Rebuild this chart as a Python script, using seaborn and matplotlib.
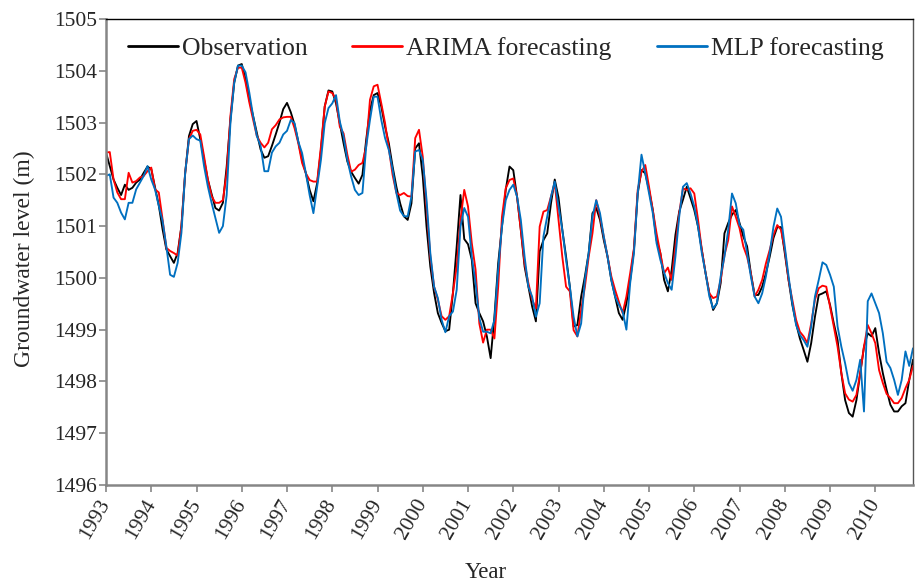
import numpy as np
import pandas as pd
import matplotlib
matplotlib.use("Agg")
import matplotlib.pyplot as plt
import seaborn as sns

start_year = 1993
observation = [
    1502.42, 1502.16, 1501.9, 1501.74, 1501.6, 1501.8, 1501.7, 1501.74, 1501.84, 1501.9, 1502.03, 1502.15,
    1502.1, 1501.75, 1501.4, 1500.94, 1500.55, 1500.42, 1500.29, 1500.48, 1501.0, 1502.03, 1502.74, 1502.97,
    1503.03, 1502.68, 1502.29, 1501.9, 1501.62, 1501.35, 1501.3, 1501.45, 1502.15, 1503.06, 1503.77, 1504.1,
    1504.13, 1503.84, 1503.45, 1503.13, 1502.8, 1502.48, 1502.32, 1502.35, 1502.55, 1502.77, 1503.0, 1503.26,
    1503.38, 1503.2, 1502.96, 1502.63, 1502.28, 1502.02, 1501.7, 1501.48, 1501.83, 1502.47, 1503.31, 1503.62,
    1503.6, 1503.37, 1502.99, 1502.6, 1502.25, 1502.05, 1501.93, 1501.82, 1501.99, 1502.67, 1503.24, 1503.53,
    1503.57, 1503.31, 1502.92, 1502.6, 1502.15, 1501.76, 1501.44, 1501.19, 1501.12, 1501.44, 1502.5, 1502.6,
    1501.96, 1500.99, 1500.22, 1499.71, 1499.32, 1499.13, 1498.97, 1499.0, 1499.71, 1500.61, 1501.6, 1500.75,
    1500.65, 1500.35, 1499.51, 1499.32, 1499.16, 1498.87, 1498.45, 1499.25, 1500.28, 1500.99, 1501.7, 1502.15,
    1502.08, 1501.57, 1500.93, 1500.22, 1499.83, 1499.45, 1499.16, 1500.51, 1500.73, 1500.86, 1501.44, 1501.9,
    1501.55, 1500.93, 1500.41, 1499.83, 1499.06, 1499.09, 1499.64, 1500.03, 1500.48, 1501.25, 1501.35, 1501.12,
    1500.73, 1500.41, 1499.96, 1499.64, 1499.32, 1499.19, 1499.51, 1499.96, 1500.54, 1501.63, 1502.08, 1502.02,
    1501.7, 1501.31, 1500.73, 1500.48, 1499.96, 1499.74, 1500.15, 1500.83, 1501.28, 1501.51, 1501.76, 1501.54,
    1501.31, 1500.99, 1500.54, 1500.09, 1499.7, 1499.38, 1499.51, 1499.9, 1500.86, 1501.06, 1501.22, 1501.31,
    1501.06, 1500.8, 1500.61, 1500.09, 1499.67, 1499.67, 1499.83, 1500.09, 1500.41, 1500.77, 1500.98, 1500.98,
    1500.48, 1499.96, 1499.48, 1499.12, 1498.83, 1498.61, 1498.38, 1498.74, 1499.25, 1499.67, 1499.7, 1499.74,
    1499.48, 1499.12, 1498.8, 1498.16, 1497.64, 1497.39, 1497.32, 1497.64, 1498.16, 1498.67, 1498.93, 1498.87,
    1499.03, 1498.55, 1498.16, 1497.84, 1497.55, 1497.42, 1497.42, 1497.52, 1497.58, 1498.03, 1498.42,
]
arima = [
    1502.42, 1502.43, 1501.9, 1501.65, 1501.52, 1501.52, 1502.03, 1501.84, 1501.87, 1501.94, 1501.97, 1502.06,
    1502.13, 1501.71, 1501.65, 1501.13, 1500.58, 1500.52, 1500.48, 1500.43, 1501.0, 1502.03, 1502.68, 1502.84,
    1502.86, 1502.77, 1502.35, 1501.9, 1501.58, 1501.45, 1501.45, 1501.5, 1502.03, 1503.13, 1503.84, 1504.06,
    1504.06, 1503.77, 1503.39, 1503.06, 1502.74, 1502.61, 1502.52, 1502.61, 1502.87, 1502.95, 1503.06, 1503.1,
    1503.11, 1503.11, 1502.89, 1502.6, 1502.22, 1502.02, 1501.89, 1501.86, 1501.86, 1502.54, 1503.31, 1503.6,
    1503.57, 1503.44, 1502.92, 1502.79, 1502.38, 1502.05, 1502.09, 1502.18, 1502.22, 1502.54, 1503.44, 1503.7,
    1503.73, 1503.37, 1502.99, 1502.5, 1501.99, 1501.64, 1501.6, 1501.64, 1501.58, 1501.57, 1502.7, 1502.86,
    1502.34, 1501.38, 1500.41, 1499.83, 1499.58, 1499.26, 1499.19, 1499.26, 1499.71, 1500.22, 1501.12, 1501.7,
    1501.38, 1500.67, 1500.16, 1499.12, 1498.75, 1499.0, 1499.0, 1498.83, 1499.83, 1501.18, 1501.73, 1501.89,
    1501.92, 1501.57, 1500.93, 1500.28, 1499.9, 1499.58, 1499.41, 1500.99, 1501.28, 1501.31, 1501.57, 1501.83,
    1501.12, 1500.41, 1499.83, 1499.74, 1498.99, 1498.87, 1499.38, 1499.83, 1500.41, 1500.86, 1501.5, 1501.18,
    1500.8, 1500.41, 1500.03, 1499.77, 1499.54, 1499.32, 1499.64, 1500.09, 1500.57, 1501.7, 1502.05, 1502.18,
    1501.76, 1501.31, 1500.86, 1500.48, 1500.09, 1500.2, 1499.96, 1500.6, 1501.25, 1501.73, 1501.7, 1501.73,
    1501.63, 1501.12, 1500.54, 1500.09, 1499.7, 1499.61, 1499.64, 1499.96, 1500.44, 1500.73, 1501.38, 1501.18,
    1500.96, 1500.61, 1500.41, 1500.09, 1499.64, 1499.77, 1499.96, 1500.28, 1500.54, 1500.83, 1501.02, 1500.93,
    1500.54, 1499.96, 1499.58, 1499.19, 1498.96, 1498.87, 1498.74, 1499.12, 1499.58, 1499.8, 1499.85, 1499.83,
    1499.45, 1499.06, 1498.67, 1498.16, 1497.77, 1497.65, 1497.61, 1497.74, 1498.16, 1498.67, 1499.09, 1498.93,
    1498.74, 1498.22, 1497.97, 1497.76, 1497.68, 1497.58, 1497.58, 1497.68, 1497.87, 1498.03, 1498.3,
]
mlp = [
    1501.97, 1502.0, 1501.55, 1501.45, 1501.26, 1501.13, 1501.45, 1501.45, 1501.71, 1501.84, 1501.97, 1502.16,
    1501.9, 1501.71, 1501.39, 1501.1, 1500.61, 1500.06, 1500.02, 1500.29, 1500.87, 1502.03, 1502.68, 1502.75,
    1502.68, 1502.65, 1502.16, 1501.77, 1501.45, 1501.16, 1500.87, 1501.0, 1501.6, 1503.0, 1503.77, 1504.1,
    1504.1, 1503.97, 1503.58, 1503.13, 1502.74, 1502.55, 1502.06, 1502.06, 1502.42, 1502.54, 1502.61, 1502.77,
    1502.84, 1503.05, 1502.99, 1502.63, 1502.41, 1502.02, 1501.6, 1501.25, 1501.76, 1502.28, 1502.99, 1503.28,
    1503.37, 1503.53, 1503.02, 1502.73, 1502.28, 1501.96, 1501.7, 1501.6, 1501.64, 1502.54, 1503.05, 1503.5,
    1503.5, 1503.05, 1502.7, 1502.47, 1502.09, 1501.64, 1501.3, 1501.19, 1501.19, 1501.57, 1502.44, 1502.47,
    1502.28, 1501.51, 1500.48, 1499.83, 1499.61, 1499.19, 1498.95, 1499.26, 1499.35, 1499.77, 1500.99, 1501.35,
    1501.18, 1500.41, 1499.9, 1499.22, 1498.96, 1498.96, 1498.93, 1499.19, 1500.16, 1500.99, 1501.5, 1501.7,
    1501.8, 1501.57, 1501.12, 1500.41, 1499.83, 1499.64, 1499.25, 1499.51, 1500.8, 1501.18, 1501.57, 1501.86,
    1501.38, 1500.93, 1500.35, 1499.83, 1499.25, 1498.87, 1499.12, 1499.96, 1500.48, 1501.18, 1501.5, 1501.25,
    1500.8, 1500.41, 1499.96, 1499.64, 1499.48, 1499.35, 1499.0, 1499.9, 1500.48, 1501.63, 1502.38, 1502.02,
    1501.63, 1501.25, 1500.67, 1500.35, 1500.1, 1499.9, 1499.77, 1500.41, 1501.18, 1501.76, 1501.83, 1501.63,
    1501.38, 1500.99, 1500.48, 1500.09, 1499.64, 1499.41, 1499.51, 1500.03, 1500.41, 1500.93, 1501.63, 1501.44,
    1501.02, 1500.93, 1500.48, 1500.03, 1499.64, 1499.51, 1499.7, 1500.03, 1500.48, 1500.99, 1501.34, 1501.18,
    1500.61, 1500.03, 1499.51, 1499.09, 1498.9, 1498.8, 1498.67, 1499.06, 1499.64, 1499.96, 1500.3, 1500.25,
    1500.06, 1499.83, 1499.06, 1498.67, 1498.35, 1497.97, 1497.82, 1498.03, 1498.42, 1497.42, 1499.55, 1499.7,
    1499.51, 1499.32, 1498.93, 1498.38, 1498.26, 1498.03, 1497.74, 1498.03, 1498.58, 1498.3, 1498.64,
]
series_names = ["Observation", "ARIMA forecasting", "MLP forecasting"]
series_colors = ["#000000", "#FF0000", "#0070C0"]
year_ticks = list(range(1993, 2011))
y_ticks = list(range(1496, 1506))

n = len(observation)
t = start_year + np.arange(n) / 12.0
df = pd.DataFrame({"Year": t, series_names[0]: observation,
                   series_names[1]: arima, series_names[2]: mlp})

sns.set_style("white")
plt.rcParams["font.family"] = ["Liberation Serif", "DejaVu Serif"]

fig = plt.figure(figsize=(9.16, 5.85), dpi=100)
ax = fig.add_axes([106 / 916, 1 - 485 / 585, 807 / 916, 466 / 585])

for name, col in zip(series_names, series_colors):
    sns.lineplot(data=df, x="Year", y=name, ax=ax, color=col, linewidth=1.35,
                 label=name)

ax.set_xlim(t[0], t[-1])
ax.set_ylim(1496, 1505)
ax.set_xticks(year_ticks)
ax.set_xticklabels([str(y) for y in year_ticks], rotation=60, ha="right",
                   va="center", rotation_mode="anchor", fontsize=15.5)
ax.set_yticks(y_ticks)
ax.set_yticklabels([str(v) for v in y_ticks], fontsize=15.5)
ax.tick_params(axis="both", direction="out", length=5, width=1.2,
               color="#868686", bottom=True, left=True)
ax.tick_params(axis="y", pad=1.5)
ax.tick_params(axis="x", pad=6)

for side in ["left", "bottom"]:
    ax.spines[side].set_color("#868686")
    ax.spines[side].set_linewidth(1.8)
ax.spines["top"].set_color("#000000")
ax.spines["top"].set_linewidth(1.0)
ax.spines["right"].set_color("#555555")
ax.spines["right"].set_linewidth(1.0)

ax.set_xlabel("Year", fontsize=16.5)
ax.set_ylabel("Groundwater level (m)", fontsize=17)
ax.xaxis.set_label_coords(0.47, -0.165)
ax.yaxis.set_label_coords(-0.088, 0.485)

leg = ax.legend(loc="center", bbox_to_anchor=(0.495, 0.936), ncol=3,
                frameon=False, fontsize=18.5, handlelength=1.95,
                handletextpad=0.15, columnspacing=1.75)
for h in leg.get_lines():
    h.set_linewidth(2.0)

fig.savefig("out.png", dpi=100)
